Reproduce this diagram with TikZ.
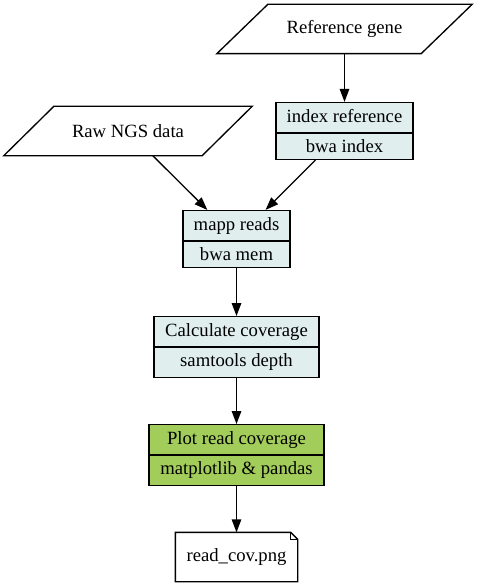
\documentclass[tikz,border=0pt]{standalone}
\usepackage{fontspec}
\setmainfont{Liberation Serif}
\usetikzlibrary{shapes.multipart,arrows.meta}
\definecolor{cellblue}{HTML}{E0EEEE}
\definecolor{cellgreen}{HTML}{A2CD5A}
\tikzset{
  flownode/.style = {align=center, font=\fontsize{18.67bp}{22bp}\selectfont,
    line width=1.33bp},
  data_in/.style = {flownode, rectangle, minimum height=48bp,
    inner sep=0pt},% input data, outline drawn below
  step_b/.style = {flownode, rectangle split, rectangle split parts=2,
    draw=black, fill=cellblue, text height=13bp, text depth=4bp,
    inner ysep=6bp},% tool step
  step_g/.style = {step_b, fill=cellgreen},% final step
  file_n/.style = {flownode, rectangle, minimum width=121bp,
    minimum height=48bp}% output file
}
\begin{document}
\begin{tikzpicture}[x=1bp,y=-1bp,->,>={Triangle[length=13bp,width=9.5bp]},
  line width=1.33bp]
\useasboundingbox (0,0) rectangle (477,587);
\node [data_in, minimum width=203bp] (ref) at (344.5,29) {Reference gene};
\node [data_in, minimum width=197bp] (raw) at (128,131) {Raw NGS data};
\node [step_b, minimum width=137bp] (index) at (344.5,131)
  {index reference \nodepart{two} bwa index};
\node [step_b, minimum width=107bp] (mapp) at (236.5,239)
  {mapp reads \nodepart{two} bwa mem};
\node [step_b, minimum width=165bp] (calc) at (236.5,347)
  {Calculate coverage \nodepart{two} samtools depth};
\node [step_g, minimum width=175bp] (plot) at (236.5,455)
  {Plot read coverage \nodepart{two} matplotlib \& pandas};
\node [file_n] (png) at (236.5,557) {read\_cov.png};
% parallelograms
\draw [-] ([xshift=-25.5bp]ref.south west) -- ([xshift=25.5bp]ref.north west)
  -- ([xshift=25.5bp]ref.north east) -- ([xshift=-25.5bp]ref.south east)
  -- cycle;
\draw [-] ([xshift=-25bp]raw.south west) -- ([xshift=25bp]raw.north west)
  -- ([xshift=25bp]raw.north east) -- ([xshift=-25bp]raw.south east)
  -- cycle;
% note shape
\draw [-] (png.north west) -- ([xshift=-7bp]png.north east)
  -- ([yshift=-7bp]png.north east) -- (png.south east)
  -- (png.south west) -- cycle;
\draw [-, line width=0.8bp] ([xshift=-7bp]png.north east)
  |- ([yshift=-7bp]png.north east);
\draw (ref) -- (index);
\draw (raw) -- (mapp);
\draw (index) -- (mapp);
\draw (mapp) -- (calc);
\draw (calc) -- (plot);
\draw (plot) -- (png);
\end{tikzpicture}
\end{document}
